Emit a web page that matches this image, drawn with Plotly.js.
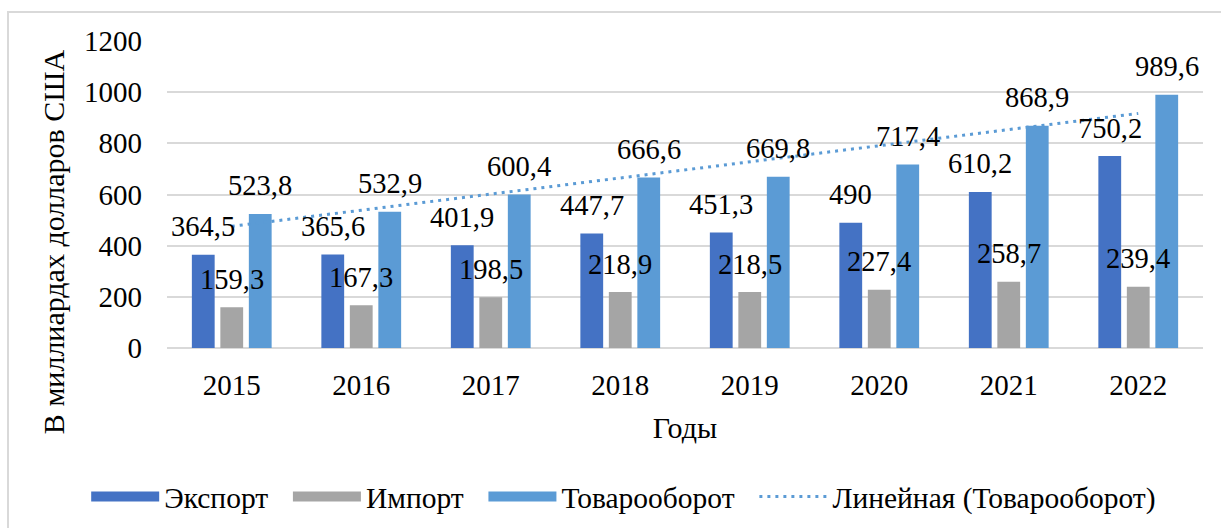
<!DOCTYPE html>
<html>
<head>
<meta charset="utf-8">
<script src="https://cdn.plot.ly/plotly-3.0.1.min.js"></script>
<style>
  html, body { margin: 0; padding: 0; background: #fff; }
  #wrap { position: relative; width: 1221px; height: 528px; overflow: hidden; }
  #chart { position: absolute; left: 0; top: 0; width: 1221px; height: 528px; }
  #frame { position: absolute; left: 7px; top: 11px; width: 1240px; height: 560px;
           border: 2px solid #d9d9d9; box-sizing: border-box; pointer-events: none; }
</style>
</head>
<body>
<div id="wrap"><div id="chart"></div><div id="frame"></div></div>
<script>
const years = ['2015', '2016', '2017', '2018', '2019', '2020', '2021', '2022'];
const exportVals = [364.5, 365.6, 401.9, 447.7, 451.3, 490, 610.2, 750.2];
const importVals = [159.3, 167.3, 198.5, 218.9, 218.5, 227.4, 258.7, 239.4];
const turnoverVals = [523.8, 532.9, 600.4, 666.6, 669.8, 717.4, 868.9, 989.6];
const seriesNames = ['Экспорт', 'Импорт', 'Товарооборот'];
const trendName = 'Линейная (Товарооборот)';
const yTitle = 'В миллиардах долларов США';
const xTitle = 'Годы';

const colors = ['#4472C4', '#A5A5A5', '#5B9BD5'];
const FONT = "'Liberation Serif', 'Times New Roman', serif";
const TICK_FS = 29, LABEL_FS = 28.5, LEGEND_FS = 29.5, TITLE_FS = 30;
const PAD = '\u00a0\u00a0';

// linear trend (least squares) over turnover
const n = turnoverVals.length;
const xs = turnoverVals.map((_, i) => i + 1);
const mx = xs.reduce((a, b) => a + b, 0) / n;
const my = turnoverVals.reduce((a, b) => a + b, 0) / n;
let sxy = 0, sxx = 0;
for (let i = 0; i < n; i++) { sxy += (xs[i] - mx) * (turnoverVals[i] - my); sxx += (xs[i] - mx) ** 2; }
const slope = sxy / sxx, intercept = my - slope * mx;
const trendVals = xs.map(x => intercept + slope * x);

const allSeries = [exportVals, importVals, turnoverVals];
const traces = [];
allSeries.forEach((vals, s) => {
  traces.push({
    type: 'bar', x: years, y: vals, name: seriesNames[s],
    marker: { color: colors[s] }, showlegend: false, hoverinfo: 'x+y'
  });
});
// legend-only entries drawn as wide swatches
allSeries.forEach((vals, s) => {
  traces.push({
    type: 'scatter', mode: 'lines', x: [years[0]], y: [null], name: seriesNames[s] + PAD,
    line: { color: colors[s], width: 15 }, showlegend: true, hoverinfo: 'skip'
  });
});
traces.push({
  type: 'scatter', mode: 'lines', x: years, y: trendVals, name: trendName,
  line: { color: '#5B9BD5', width: 3, dash: '3px,5px' }, hoverinfo: 'skip'
});

const annotations = [];
const shifts = [-28.5, 0, 28.5];
allSeries.forEach((vals, s) => {
  vals.forEach((v, i) => {
    annotations.push({
      x: i, y: v, xref: 'x', yref: 'y',
      text: String(v).replace('.', ','), showarrow: false,
      xshift: shifts[s], yshift: 28, yanchor: 'middle', xanchor: 'center',
      font: { family: FONT, size: LABEL_FS, color: '#000' }
    });
  });
});
annotations.push({
  text: yTitle, xref: 'paper', yref: 'paper', x: -0.110, y: 0.345,
  xanchor: 'center', yanchor: 'middle', textangle: -90, showarrow: false,
  font: { family: FONT, size: TITLE_FS, color: '#000' }
});

const layout = {
  width: 1221, height: 528,
  margin: { l: 167, r: 18, t: 41, b: 180, autoexpand: false },
  paper_bgcolor: 'rgba(0,0,0,0)', plot_bgcolor: '#fff',
  font: { family: FONT, size: TICK_FS, color: '#000' },
  barmode: 'group', bargap: 0.34, bargroupgap: 0.2,
  showlegend: true,
  legend: {
    orientation: 'h', x: -0.078, xanchor: 'left', y: -0.485, yanchor: 'middle',
    itemwidth: 68, font: { family: FONT, size: LEGEND_FS, color: '#000' },
    traceorder: 'normal', bgcolor: 'rgba(0,0,0,0)'
  },
  xaxis: {
    type: 'category', categoryorder: 'array', categoryarray: years, range: [-0.5, 7.5],
    automargin: false,
    showgrid: false, zeroline: false, showline: false, ticks: '',
    ticklabelstandoff: 17,
    tickfont: { family: FONT, size: TICK_FS, color: '#000' },
    title: { text: xTitle, standoff: 16, font: { family: FONT, size: TITLE_FS, color: '#000' } }
  },
  yaxis: {
    range: [0, 1200], dtick: 200, tick0: 0, automargin: false,
    showgrid: true, gridcolor: '#d9d9d9', gridwidth: 2,
    zeroline: true, zerolinecolor: '#d9d9d9', zerolinewidth: 2, showline: false, ticks: '',
    ticklabelstandoff: 24,
    tickfont: { family: FONT, size: TICK_FS, color: '#000' }
  },
  annotations: annotations
};

Plotly.newPlot('chart', traces, layout, { displayModeBar: false, staticPlot: true });
</script>
</body>
</html>
